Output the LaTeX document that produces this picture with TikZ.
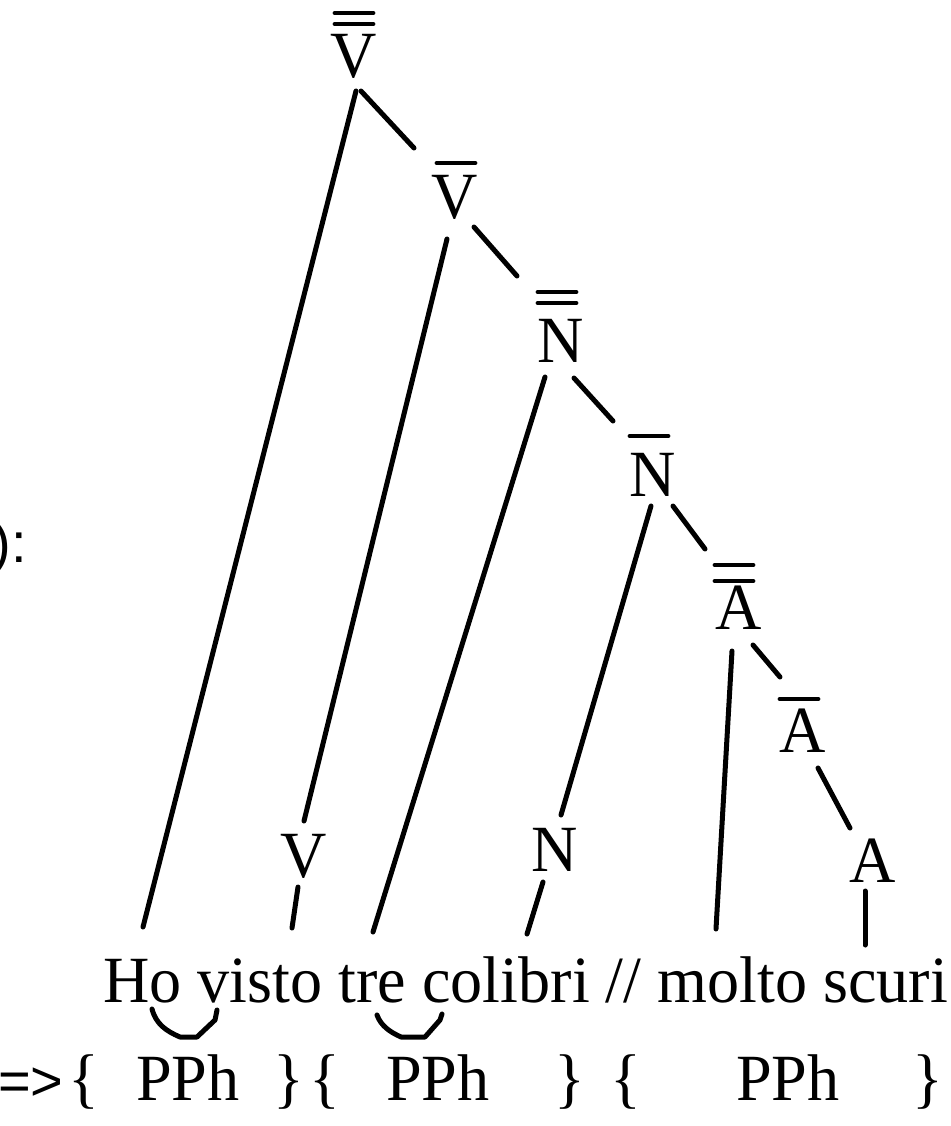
\documentclass[tikz,border=0pt]{standalone}
\usepackage{fontspec}
\setmainfont{Liberation Serif}[FakeStretch=0.972]
\newfontfamily\sansfnt{Liberation Sans}
\begin{document}
\begin{tikzpicture}[x=0.5pt,y=-0.5pt,
  lbl/.style={inner sep=0pt,anchor=base,font=\fontsize{33}{36}\selectfont},
  sanslbl/.style={inner sep=0pt,font=\sansfnt\fontsize{28}{32}\selectfont},
  edge/.style={line width=2.5pt,line cap=round},
  bar/.style={line width=2.4pt,line cap=round},
  link/.style={line width=2.5pt,line cap=round,line join=round}]
\useasboundingbox (0,0) rectangle (951,1126);
% category labels
\node[lbl] (Vtt) at (354,77) {V};
\node[lbl] (Vt)  at (455,218) {V};
\node[lbl] (Ntt) at (561,362) {N};
\node[lbl] (Nt)  at (653,496) {N};
\node[lbl] (Att) at (739,629) {A};
\node[lbl] (At)  at (803,752) {A};
\node[lbl] (V)   at (304,877) {V};
\node[lbl] (N)   at (555,871) {N};
\node[lbl] (A)   at (873,882) {A};
% bars
\draw[bar] ([shift={(-19,-64)}]Vtt.base) -- ++(38,0);
\draw[bar] ([shift={(-19,-53)}]Vtt.base) -- ++(38,0);
\draw[bar] ([shift={(-18,-55)}]Vt.base) -- ++(38,0);
\draw[bar] ([shift={(-23,-70)}]Ntt.base) -- ++(38,0);
\draw[bar] ([shift={(-23,-59)}]Ntt.base) -- ++(38,0);
\draw[bar] ([shift={(-23,-60)}]Nt.base) -- ++(38,0);
\draw[bar] ([shift={(-24,-64)}]Att.base) -- ++(38,0);
\draw[bar] ([shift={(-24,-48)}]Att.base) -- ++(38,0);
\draw[bar] ([shift={(-23,-53)}]At.base) -- ++(38,0);
% sentence
\node[lbl,anchor=base west] (S) at (103,1002) {Ho visto tre colibri // molto scuri};
% left cut text
\node[sanslbl,anchor=base east] (lp) at (27,562) {):};
% bottom row
\node[sanslbl,anchor=base east] (arr) at (64,1100) {=>};
\node[lbl] (b1) at (84,1100) {\{};
\node[lbl] (p1) at (188,1100) {PPh};
\node[lbl] (b2) at (289,1100) {\}};
\node[lbl] (b3) at (325,1100) {\{};
\node[lbl] (p2) at (438,1100) {PPh};
\node[lbl] (b4) at (570,1100) {\}};
\node[lbl] (b5) at (626,1100) {\{};
\node[lbl] (p3) at (788,1100) {PPh};
\node[lbl] (b6) at (928,1100) {\}};
% connector end points
\coordinate (e1a) at (356,91);  \coordinate (e1b) at (143,927);
\coordinate (e2a) at (361,91);  \coordinate (e2b) at (414,148);
\coordinate (e3a) at (447,239); \coordinate (e3b) at (304,821);
\coordinate (e4a) at (474,227); \coordinate (e4b) at (517,276);
\coordinate (e5a) at (545,377); \coordinate (e5b) at (373,932);
\coordinate (e6a) at (574,378); \coordinate (e6b) at (613,421);
\coordinate (e7a) at (651,506); \coordinate (e7b) at (561,815);
\coordinate (e8a) at (673,506); \coordinate (e8b) at (705,549);
\coordinate (e9a) at (543,882); \coordinate (e9b) at (527,934);
\coordinate (e10a) at (298,887); \coordinate (e10b) at (292,928);
\coordinate (e11a) at (732,651); \coordinate (e11b) at (716,929);
\coordinate (e12a) at (753,645); \coordinate (e12b) at (780,677);
\coordinate (e13a) at (818,768); \coordinate (e13b) at (850,828);
\coordinate (e14a) at (865,891); \coordinate (e14b) at (865,945);
\foreach \i in {1,...,14} {\draw[edge] (e\i a) -- (e\i b);}
% liaison marks
\draw[link] (152,1009) .. controls (156,1024) and (166,1031) .. (180,1037) -- (197,1037) -- (215,1020) -- (217,1010);
\draw[link] (377,1015) .. controls (381,1026) and (390,1032) .. (401,1037) -- (425,1037) -- (440,1020) -- (442,1014);
\end{tikzpicture}
\end{document}
